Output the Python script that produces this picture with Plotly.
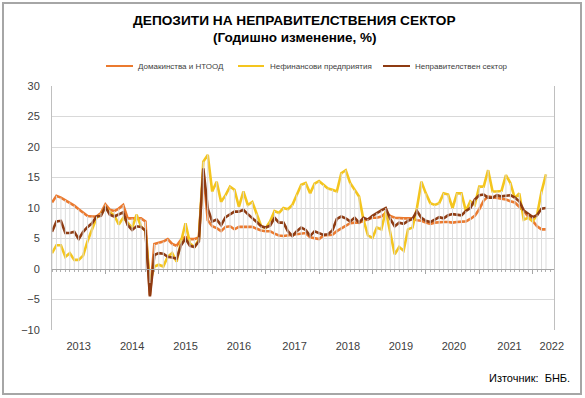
import plotly.graph_objects as go

# Monthly data, Jan 2013 .. Apr 2022 (index 0 = Jan 2013)
households = [10.9, 12.0, 11.7, 11.3, 10.9, 10.4, 9.8, 9.2, 8.7, 8.6, 8.6, 9.2,
              10.6, 9.7, 9.5, 9.9, 10.5, 8.3, 8.3, 8.3, 8.3, 7.8, -4.3, 4.1,
              4.3, 4.5, 4.9, 4.1, 3.8, 4.8, 5.3, 4.9, 4.9, 5.2, 16.0, 8.0,
              7.0, 6.7, 6.2, 6.9, 7.0, 6.5, 6.9, 6.9, 6.9, 6.9, 6.6, 6.3,
              6.2, 6.2, 5.8, 5.5, 5.4, 5.5, 5.5, 5.6, 5.8, 5.9, 5.2, 5.1,
              4.9, 5.5, 5.5, 5.6, 6.2, 6.6, 7.0, 7.5, 7.6, 7.6, 7.9, 8.2,
              8.4, 8.4, 8.6, 9.2, 8.7, 8.4, 8.3, 8.3, 8.3, 8.3, 8.0, 7.9,
              7.6, 7.4, 7.6, 7.7, 7.7, 7.7, 7.6, 7.7, 7.7, 7.8, 8.2, 8.7,
              9.8, 11.2, 11.9, 11.8, 11.6, 11.6, 11.4, 11.1, 10.9, 10.2, 9.5, 8.6,
              7.9, 7.0, 6.5, 6.5]

non_financial = [2.6, 3.9, 3.9, 2.0, 2.6, 1.5, 1.5, 2.2, 4.6, 6.6, 8.4, 8.9,
                 10.1, 9.3, 8.8, 7.3, 8.4, 7.6, 6.7, 8.9, 7.0, 6.2, -2.3, 0.4,
                 0.7, 0.4, 2.0, 2.6, 1.2, 4.5, 7.5, 4.2, 3.6, 4.8, 17.6, 18.7,
                 12.7, 14.3, 11.0, 12.1, 13.5, 13.0, 10.2, 12.7, 10.5, 11.0, 9.1, 7.0,
                 6.7, 7.8, 9.5, 9.2, 10.0, 9.8, 10.5, 12.2, 13.8, 14.1, 12.4, 14.0,
                 14.4, 13.8, 13.2, 13.0, 12.7, 15.7, 16.2, 14.1, 13.0, 11.9, 8.0, 5.5,
                 5.1, 6.8, 6.5, 9.5, 6.0, 2.4, 3.6, 3.0, 6.5, 6.8, 10.0, 14.3,
                 12.4, 10.8, 10.5, 10.8, 12.4, 12.2, 10.0, 12.4, 12.4, 9.5, 11.1, 10.5,
                 13.5, 13.5, 16.2, 12.7, 12.7, 12.8, 15.4, 14.1, 11.6, 12.4, 8.1, 8.4,
                 7.8, 8.9, 12.7, 15.5]

non_government = [6.1, 7.8, 7.9, 5.9, 5.9, 6.1, 4.9, 6.1, 6.9, 7.5, 8.6, 8.7,
                  10.2, 8.9, 8.6, 8.9, 9.3, 7.2, 6.4, 7.0, 6.9, 6.3, -4.5, 2.3,
                  2.6, 2.5, 2.0, 1.9, 1.7, 3.9, 5.0, 3.8, 3.6, 4.5, 16.5, 9.9,
                  7.8, 8.1, 7.2, 8.5, 8.9, 9.4, 9.4, 9.7, 9.0, 8.4, 7.7, 7.0,
                  6.8, 7.1, 8.4, 7.6, 7.6, 6.2, 5.4, 6.2, 6.8, 6.4, 5.4, 6.2,
                  5.9, 5.6, 5.7, 6.3, 8.2, 8.6, 8.3, 7.8, 8.4, 7.6, 8.4, 8.1,
                  8.7, 9.2, 9.6, 10.0, 8.2, 7.0, 7.6, 7.4, 7.9, 8.2, 9.5, 8.4,
                  7.9, 7.7, 8.1, 8.5, 8.3, 8.8, 9.0, 8.9, 8.8, 9.5, 10.0, 11.4,
                  12.1, 12.2, 11.7, 11.7, 12.1, 11.9, 12.0, 12.1, 11.7, 11.1, 9.6, 9.0,
                  8.5, 8.8, 9.9, 10.0]

series_names = ["Домакинства и НТООД", "Нефинансови предприятия", "Неправителствен сектор"]
series_colors = ["#EB7A2F", "#F4C51E", "#8E3B12"]

year_labels = ["2013", "2014", "2015", "2016", "2017", "2018", "2019", "2020", "2021", "2022"]
year_label_pos = [6, 18, 30, 42, 54.5, 66.5, 78.4, 90.3, 102.8, 112.3]
year_starts = [12, 24, 36, 48, 60, 72, 84, 96, 108]

title_line1 = "ДЕПОЗИТИ НА НЕПРАВИТЕЛСТВЕНИЯ СЕКТОР"
title_line2 = "(Годишно изменение, %)"
source_text = "Източник:  БНБ."

n = len(households)
idx = list(range(n))
FONT = "Liberation Sans, Arial, sans-serif"

# plot-area geometry (pixels)
W, H = 585, 398
L, R, T, B = 52, 31, 86, 68
PW = W - L - R
PH = H - T - B
XMAX = 112.8


def px(xpix):
    return (xpix - L) / PW


def py(ypix):
    return (H - B - ypix) / PH


fig = go.Figure()

# drop lines from axis to the highest series value in each month
dx, dy = [], []
for i in idx:
    top = max(households[i], non_financial[i], non_government[i])
    dx += [i, i, None]
    dy += [0, top, None]
fig.add_trace(go.Scatter(x=dx, y=dy, mode="lines", xaxis="x2",
                         line=dict(color="#dcdcdc", width=1),
                         hoverinfo="skip", showlegend=False))

for vals, name, col in zip([households, non_financial, non_government], series_names, series_colors):
    fig.add_trace(go.Scatter(x=idx, y=vals, mode="lines", name=name,
                             line=dict(color=col, width=2.6), showlegend=False))

# manual legend
leg_lines = [(106, 133), (238, 264), (383, 410)]
leg_text_x = [136, 268, 413]
shapes = []
annotations = []
for (a, b), tx, name, col in zip(leg_lines, leg_text_x, series_names, series_colors):
    shapes.append(dict(type="line", xref="paper", yref="paper",
                       x0=px(a), x1=px(b), y0=py(66), y1=py(66),
                       line=dict(color=col, width=2)))
    annotations.append(dict(text=name, xref="paper", yref="paper", x=px(tx), y=py(66.5),
                            xanchor="left", yanchor="middle", showarrow=False,
                            font=dict(family=FONT, size=8, color="#404040")))

# outer frame
shapes.append(dict(type="rect", xref="paper", yref="paper",
                   x0=px(3), x1=px(581), y0=py(394), y1=py(3),
                   line=dict(color="#a6a6a6", width=2)))

annotations.append(dict(text="<b>" + title_line1 + "</b>", xref="paper", yref="paper",
                        x=px(294), y=py(20), xanchor="center", yanchor="middle", showarrow=False,
                        font=dict(family=FONT, size=13.7, color="#000000")))
annotations.append(dict(text="<b>" + title_line2 + "</b>", xref="paper", yref="paper",
                        x=px(295), y=py(37), xanchor="center", yanchor="middle", showarrow=False,
                        font=dict(family=FONT, size=13.5, color="#000000")))
annotations.append(dict(text=source_text, xref="paper", yref="paper",
                        x=px(572), y=py(378), xanchor="right", yanchor="middle", showarrow=False,
                        font=dict(family=FONT, size=11, color="#000000")))

fig.update_layout(
    width=W, height=H,
    margin=dict(l=L, r=R, t=T, b=B, pad=0),
    paper_bgcolor="white", plot_bgcolor="white",
    font=dict(family=FONT, size=11, color="#404040"),
    showlegend=False,
    shapes=shapes, annotations=annotations,
    xaxis=dict(range=[0, XMAX], showgrid=False, zeroline=False, showline=False,
               tickmode="array", tickvals=year_label_pos, ticktext=year_labels,
               ticks="", ticklabelstandoff=8,
               tickfont=dict(family=FONT, size=11, color="#404040")),
    xaxis2=dict(range=[0, XMAX], overlaying="x", anchor="free", position=0.25,
                side="bottom", showgrid=False, zeroline=False,
                showline=True, linecolor="#a6a6a6", linewidth=1,
                tickmode="array", tickvals=year_starts, ticks="outside", ticklen=4,
                tickcolor="#a6a6a6", tickwidth=1, showticklabels=False,
                minor=dict(ticks="outside", tickmode="linear", tick0=0, dtick=1,
                           ticklen=2, tickcolor="#b0b0b0", tickwidth=1)),
    yaxis=dict(range=[-10, 30], dtick=5, tick0=0, showgrid=True, gridcolor="#d9d9d9",
               gridwidth=1, zeroline=False, showline=True, linecolor="#bfbfbf",
               linewidth=1, mirror=True, ticks="", ticklabelstandoff=9,
               tickfont=dict(family=FONT, size=11, color="#404040")),
)

fig.write_html("out.html", config={"displayModeBar": False},
               post_script="document.body.style.margin='0px';document.body.style.overflow='hidden';")
